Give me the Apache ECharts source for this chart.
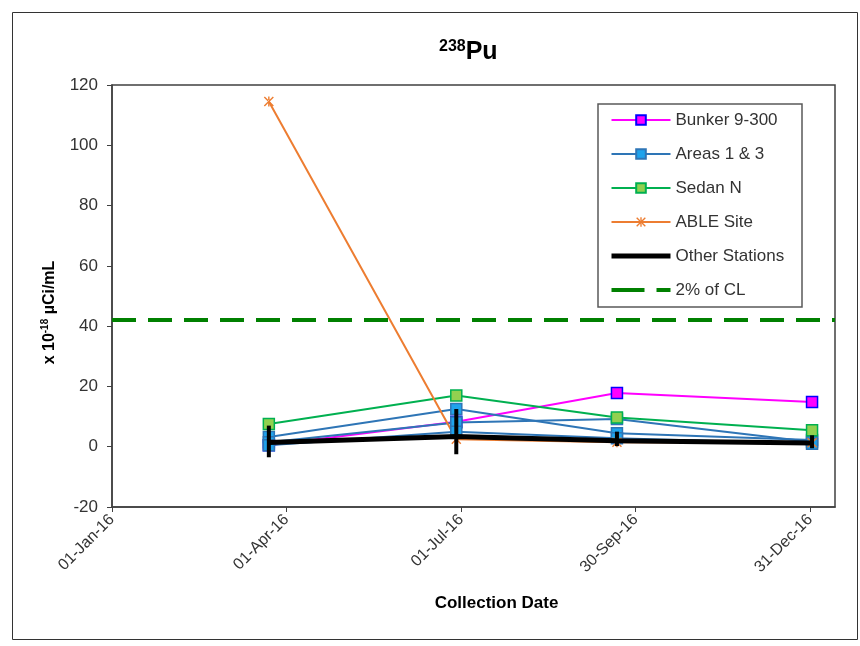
<!DOCTYPE html>
<html>
<head>
<meta charset="utf-8">
<script src="https://cdn.jsdelivr.net/npm/echarts@6/dist/echarts.min.js"></script>
<style>html,body{margin:0;padding:0;background:#fff;}#chart{width:860px;height:646px;}</style>
</head>
<body>
<div id="chart"></div>
<script>
// ---- data ----
const xTickLabels = ['01-Jan-16', '01-Apr-16', '01-Jul-16', '30-Sep-16', '31-Dec-16'];
const xTickDays = [0, 91.25, 182.5, 273.75, 365];   // days since 01-Jan-16
const sampleDays = [82, 180, 264, 366];             // collection dates, days since 01-Jan-16
const bunker = [0.5, 8.3, 17.8, 14.8];
const areas1 = [3.2, 12.5, 4.5, 2.2];
const areas2 = [1.5, 8.0, 9.2, 1.6];
const areas3 = [0.5, 5.0, 2.8, 1.0];
const sedanN = [7.5, 17.0, 9.7, 5.5];
const ableSite = [114.5, 2.5, 1.5, 1.3];
const otherStations = [1.4, 3.4, 2.0, 1.2];
const otherLow = [-3.5, -2.5, 0.2, -0.5];
const otherHigh = [7.0, 12.5, 5.0, 3.8];
const clLimit = 42;
const yTicks = [-20, 0, 20, 40, 60, 80, 100, 120];

const pts = arr => sampleDays.map((d, i) => [d, arr[i]]);
const FONT = 'Liberation Sans, Arial, sans-serif';

const blueItem = {color: '#1fa3ec', borderColor: '#2e75b6', borderWidth: 1.5};
const blueLine = {color: '#2e75b6', width: 2};
function areaSeries(arr) {
  return {name: 'Areas 1 & 3', type: 'line', data: pts(arr), symbol: 'rect', symbolSize: 11,
    lineStyle: blueLine, itemStyle: blueItem};
}
const asterisk = 'path://M4.3,0L5.7,0L5.7,10L4.3,10Z M1,0L0,1L9,10L10,9Z M9,0L10,1L1,10L0,9Z';

const chart = echarts.init(document.getElementById('chart'), null, {renderer: 'canvas'});
chart.setOption({
  animation: false,
  backgroundColor: '#fff',
  textStyle: {fontFamily: FONT},
  title: {
    text: '{sup|238}{main|Pu}',
    left: 439, top: 39, padding: 0,
    textStyle: {
      rich: {
        sup: {fontSize: 16, fontWeight: 'bold', color: '#000', fontFamily: FONT, verticalAlign: 'top', lineHeight: 18},
        main: {fontSize: 25, fontWeight: 'bold', color: '#000', fontFamily: FONT, lineHeight: 27}
      }
    }
  },
  graphic: [
    {type: 'rect', shape: {x: 12.5, y: 12.5, width: 845, height: 627}, style: {fill: 'none', stroke: '#333', lineWidth: 1}, silent: true},
    {type: 'rect', shape: {x: 598, y: 104, width: 204, height: 203}, style: {fill: 'none', stroke: '#595959', lineWidth: 1.5}, silent: true}
  ],
  legend: {
    orient: 'vertical', left: 609, top: 110, padding: 0,
    itemWidth: 59, itemHeight: 12, itemGap: 14,
    textStyle: {fontSize: 17, color: '#333', fontFamily: FONT, lineHeight: 20},
    selectedMode: false,
    data: [
      {name: 'Bunker 9-300'},
      {name: 'Areas 1 & 3'},
      {name: 'Sedan N'},
      {name: 'ABLE Site'},
      {name: 'Other Stations', lineStyle: {width: 5, color: '#000'}},
      {name: '2% of CL', lineStyle: {type: [33, 12], width: 4, color: '#008000'}}
    ]
  },
  grid: {left: 112, right: 25, top: 85, bottom: 139, show: true, borderColor: '#404040', borderWidth: 1.5},
  xAxis: {
    type: 'value', min: 0, max: 378, interval: 91.25,
    name: 'Collection Date', nameLocation: 'middle', nameGap: 88,
    nameTextStyle: {fontSize: 17, fontWeight: 'bold', color: '#000', fontFamily: FONT, padding: [0, 0, 0, 46]},
    axisLine: {show: true, onZero: false, lineStyle: {color: '#404040', width: 1.5}},
    axisTick: {show: true, inside: false, length: 5, lineStyle: {color: '#404040'}, customValues: xTickDays},
    splitLine: {show: false},
    axisLabel: {
      rotate: 45, fontSize: 16, color: '#333', margin: 10, fontFamily: FONT,
      customValues: xTickDays, hideOverlap: false,
      formatter: v => {
        const i = xTickDays.findIndex(t => Math.abs(t - v) < 0.01);
        return i >= 0 ? xTickLabels[i] : '';
      }
    }
  },
  yAxis: {
    type: 'value', min: -20, max: 120, interval: 20,
    name: '{a|x 10}{s|-18}{a| µCi/mL}', nameLocation: 'middle', nameRotate: 90, nameGap: 52,
    nameTextStyle: {
      padding: [0, 33, 0, 0],
      rich: {
        a: {fontSize: 16, fontWeight: 'bold', color: '#000', fontFamily: FONT, lineHeight: 20},
        s: {fontSize: 10, fontWeight: 'bold', color: '#000', fontFamily: FONT, verticalAlign: 'top', lineHeight: 14}
      }
    },
    axisLine: {show: true, lineStyle: {color: '#404040', width: 1.5}},
    axisTick: {show: true, inside: false, length: 5, lineStyle: {color: '#404040'}},
    splitLine: {show: false},
    axisLabel: {fontSize: 17, color: '#333', margin: 14, fontFamily: FONT,
      formatter: v => (yTicks.indexOf(v) >= 0 ? String(v) : '')}
  },
  series: [
    {name: 'Bunker 9-300', type: 'line', data: pts(bunker), symbol: 'rect', symbolSize: 11,
      lineStyle: {color: '#ff00ff', width: 2}, itemStyle: {color: '#ff00ff', borderColor: '#0000ff', borderWidth: 1.5}},
    areaSeries(areas1),
    areaSeries(areas2),
    areaSeries(areas3),
    {name: 'Sedan N', type: 'line', data: pts(sedanN), symbol: 'rect', symbolSize: 11,
      lineStyle: {color: '#00b050', width: 2}, itemStyle: {color: '#92d050', borderColor: '#00b050', borderWidth: 1.5}},
    {name: 'ABLE Site', type: 'line', data: pts(ableSite), symbol: asterisk, symbolSize: 10,
      lineStyle: {color: '#ed7d31', width: 2}, itemStyle: {color: '#ed7d31'}},
    {name: 'Other Stations', type: 'line', data: pts(otherStations), symbol: 'none', z: 5,
      lineStyle: {color: '#000', width: 5}, itemStyle: {color: 'transparent', borderWidth: 0}},
    {name: 'Other Stations range', type: 'custom', z: 6,
      data: sampleDays.map((d, i) => [d, otherLow[i], otherHigh[i]]),
      renderItem: (params, api) => {
        const p1 = api.coord([api.value(0), api.value(1)]);
        const p2 = api.coord([api.value(0), api.value(2)]);
        return {type: 'line', shape: {x1: p1[0], y1: p1[1], x2: p2[0], y2: p2[1]},
          style: {stroke: '#000', lineWidth: 4}};
      }},
    {name: '2% of CL', type: 'line', data: [], symbol: 'none',
      lineStyle: {color: '#008000', width: 4, type: [24, 12]}, itemStyle: {color: 'transparent', borderWidth: 0},
      markLine: {symbol: 'none', silent: true, label: {show: false},
        lineStyle: {color: '#008000', width: 4, type: [24, 12]},
        data: [{yAxis: clLimit}]}}
  ]
});
</script>
</body>
</html>
